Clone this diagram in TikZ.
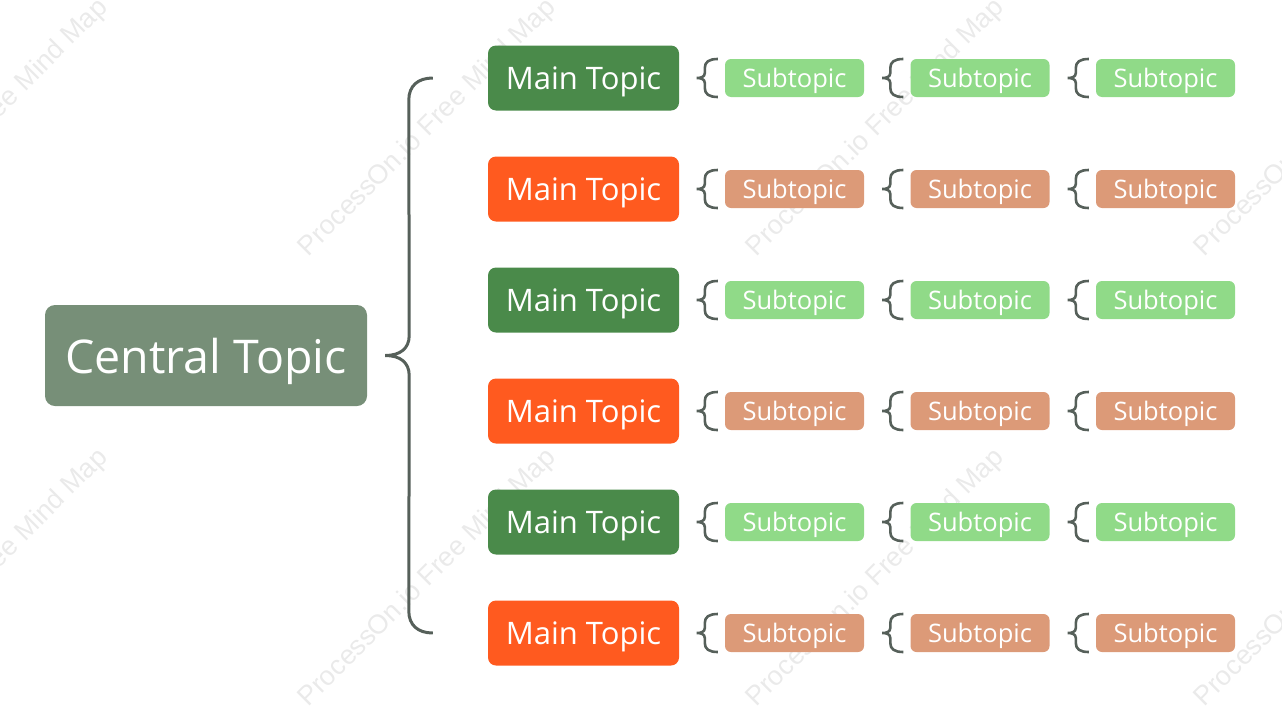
\documentclass[tikz,border=0pt]{standalone}
\usepackage{fontspec}
\setmainfont{Open Sans}
\newfontfamily\wmfont{Liberation Sans}
\usetikzlibrary{calc}
\definecolor{ctr}{HTML}{778F78}
\definecolor{mgreen}{HTML}{4A8A4A}
\definecolor{morange}{HTML}{FF5A1F}
\definecolor{sgreen}{HTML}{90DA88}
\definecolor{sorange}{HTML}{DC9A78}
\definecolor{brc}{HTML}{56605A}
\definecolor{wm}{HTML}{EAEAEA}
\begin{document}
\begin{tikzpicture}[x=1pt,y=-1pt,
  central/.style={fill=ctr, rounded corners=10pt, minimum width=322pt, minimum height=101pt, inner sep=0pt, text=white, text depth=0pt, font=\fontsize{46.5}{52}\selectfont},
  mainbox/.style={rounded corners=8pt, minimum width=191pt, minimum height=65pt, inner sep=0pt, text=white, text depth=0pt, font=\fontsize{31}{36}\selectfont},
  subbox/.style={rounded corners=6pt, minimum width=139pt, minimum height=38pt, inner sep=0pt, text=white, text depth=0pt, font=\fontsize{25.5}{30}\selectfont},
  bigbrace/.style={draw=brc, line width=3pt},
  smallbrace/.style={draw=brc, line width=2.6pt},
  watermark/.style={text=wm, font=\wmfont\fontsize{27}{30}\selectfont, rotate=45, inner sep=0pt}
]
\useasboundingbox (0,0) rectangle (1282,726);
\begin{scope}
\clip (0,0) rectangle (1282,726);
\foreach \wx/\wy [count=\k] in {-20/128, 428/128, 876/128, 1324/128, -20/578, 428/578, 876/578, 1324/578}
  \node[watermark] (wm\k) at (\wx,\wy) {ProcessOn.io Free Mind Map};
\end{scope}

\node[central] (c) at (206,355.5) {Central Topic};

\foreach \i in {1,...,6} {
  \pgfmathsetmacro{\yy}{78+111*(\i-1)}
  \ifodd\i
    \def\mc{mgreen}\def\sc{sgreen}
  \else
    \def\mc{morange}\def\sc{sorange}
  \fi
  \node[mainbox, fill=\mc] (m\i) at (583.5,\yy) {Main Topic};
  \node[subbox, fill=\sc] (s\i a) at (794.5,\yy) {Subtopic};
  \node[subbox, fill=\sc] (s\i b) at (980,\yy) {Subtopic};
  \node[subbox, fill=\sc] (s\i c) at (1165.5,\yy) {Subtopic};
  \foreach \j in {a,b,c} {
    \draw[smallbrace] ($(s\i\j.west)+(-7,-19)$)
      .. controls ($(s\i\j.west)+(-16,-19)$) and ($(s\i\j.west)+(-20,-16)$) .. ($(s\i\j.west)+(-20,-10)$)
      -- ($(s\i\j.west)+(-20,-5)$)
      .. controls ($(s\i\j.west)+(-20,-1)$) and ($(s\i\j.west)+(-24,0)$) .. ($(s\i\j.west)+(-28,0)$)
      .. controls ($(s\i\j.west)+(-24,0)$) and ($(s\i\j.west)+(-20,1)$) .. ($(s\i\j.west)+(-20,5)$)
      -- ($(s\i\j.west)+(-20,10)$)
      .. controls ($(s\i\j.west)+(-20,16)$) and ($(s\i\j.west)+(-16,19)$) .. ($(s\i\j.west)+(-7,19)$);
  }
}

\coordinate (bt) at ($(m1.west)+(-55,0)$);
\coordinate (bb) at ($(m6.west)+(-55,0)$);
\coordinate (bc) at ($(c.east)+(18,0)$);
\draw[bigbrace] (bt)
  .. controls ($(bt)+(-15,0)$) and ($(bt)+(-24,8)$) .. ($(bt)+(-24,22)$)
  -- ($(bc)+(24,-20)$)
  .. controls ($(bc)+(24,-7)$) and ($(bc)+(15,0)$) .. (bc)
  .. controls ($(bc)+(15,0)$) and ($(bc)+(24,7)$) .. ($(bc)+(24,20)$)
  -- ($(bb)+(-24,-22)$)
  .. controls ($(bb)+(-24,-8)$) and ($(bb)+(-15,0)$) .. (bb);
\end{tikzpicture}
\end{document}
